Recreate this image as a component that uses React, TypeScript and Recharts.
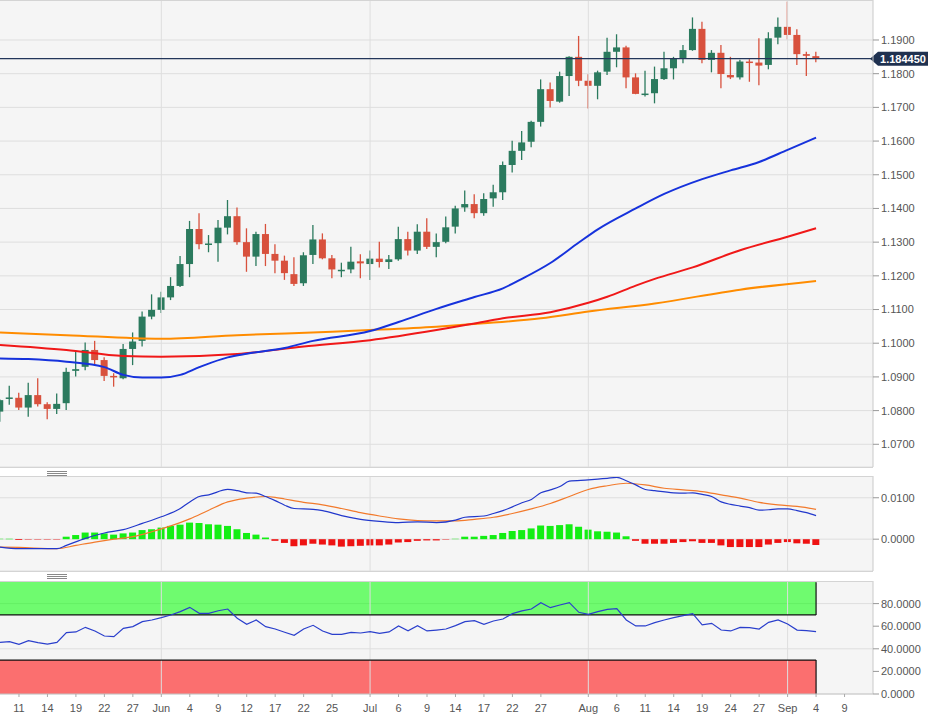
import React from "react"
import {
  ComposedChart,
  Bar,
  Line,
  XAxis,
  YAxis,
  CartesianGrid,
  ReferenceLine,
  ReferenceArea,
  Cell,
} from "recharts"

// trading days, index 0 = May 11
const FIRST = -2

const opens = [
  1.0797, 1.0837, 1.0838, 1.0809, 1.0846, 1.0819, 1.0805, 1.0822, 1.0918, 1.093,
  1.098, 1.095, 1.0903, 1.0896, 1.0983, 1.1007, 1.1079, 1.1099, 1.1136, 1.117,
  1.1235, 1.1339, 1.1293, 1.1297, 1.1343, 1.1377, 1.13, 1.1257, 1.1324, 1.1265,
  1.1245, 1.1205, 1.1178, 1.1262, 1.1308, 1.1252, 1.1216, 1.1219, 1.1243, 1.1235,
  1.1251, 1.1241, 1.1249, 1.1309, 1.1275, 1.1331, 1.1286, 1.1301, 1.1346, 1.1403,
  1.1413, 1.1386, 1.143, 1.1448, 1.1529, 1.1571, 1.1598, 1.1657, 1.1754, 1.1717,
  1.1793, 1.185, 1.1779, 1.1764, 1.1806, 1.1865, 1.1878, 1.1789, 1.1739, 1.1742,
  1.1784, 1.1816, 1.1846, 1.187, 1.1933, 1.1841, 1.1862, 1.1796, 1.1789, 1.1836,
  1.1833, 1.1826, 1.1907, 1.1939, 1.1915, 1.1858, 1.1852,
]
const highs = [
  1.0834, 1.0874, 1.0853, 1.0883, 1.0896, 1.0825, 1.0851, 1.0927, 1.0975, 1.1002,
  1.1007, 1.0958, 1.0911, 1.0998, 1.1032, 1.1094, 1.1145, 1.1153, 1.1196, 1.1259,
  1.1363, 1.1386, 1.1321, 1.1366, 1.1425, 1.1403, 1.1341, 1.1331, 1.1354, 1.1294,
  1.126, 1.1255, 1.127, 1.1351, 1.1326, 1.1262, 1.1239, 1.1286, 1.1264, 1.1275,
  1.1301, 1.1262, 1.1346, 1.1331, 1.1353, 1.1371, 1.1326, 1.1376, 1.1408, 1.1453,
  1.1442, 1.1445, 1.147, 1.1539, 1.1601, 1.163, 1.166, 1.1783, 1.1774, 1.1806,
  1.1852, 1.1912, 1.1798, 1.1809, 1.1907, 1.1917, 1.1883, 1.1801, 1.1809, 1.1821,
  1.1865, 1.185, 1.1885, 1.1967, 1.1954, 1.187, 1.1885, 1.185, 1.1841, 1.1843,
  1.1905, 1.1923, 1.1967, 1.2014, 1.1932, 1.1865, 1.1865,
]
const lows = [
  1.0767, 1.0817, 1.0802, 1.0782, 1.0812, 1.0774, 1.079, 1.0802, 1.0901, 1.092,
  1.0937, 1.0888, 1.0871, 1.0893, 1.0935, 1.099, 1.1071, 1.109, 1.1128, 1.1167,
  1.1196, 1.1279, 1.127, 1.1242, 1.1323, 1.1292, 1.1212, 1.1229, 1.1229, 1.1208,
  1.1188, 1.117, 1.117, 1.1235, 1.1249, 1.1193, 1.1196, 1.1208, 1.1193, 1.1188,
  1.1225, 1.122, 1.1245, 1.126, 1.1265, 1.128, 1.1255, 1.1297, 1.1326, 1.139,
  1.1371, 1.1378, 1.1405, 1.1425, 1.1507, 1.1544, 1.1582, 1.1643, 1.17, 1.1714,
  1.1734, 1.1763, 1.1697, 1.1724, 1.1796, 1.1819, 1.1757, 1.1739, 1.1732, 1.1712,
  1.1781, 1.1783, 1.1831, 1.1868, 1.1831, 1.1804, 1.1757, 1.1784, 1.1783, 1.1776,
  1.1766, 1.1813, 1.1887, 1.1902, 1.1826, 1.1793, 1.1834,
]
const closes = [
  1.0831, 1.0839, 1.0809, 1.0846, 1.0819, 1.0805, 1.082, 1.0915, 1.0923, 1.098,
  1.095, 1.0903, 1.09, 1.0983, 1.1005, 1.1079, 1.1099, 1.1136, 1.117, 1.1235,
  1.1339, 1.1294, 1.1296, 1.1343, 1.1377, 1.13, 1.1257, 1.1324, 1.1265, 1.1245,
  1.1208, 1.1176, 1.1261, 1.1308, 1.1252, 1.1219, 1.1218, 1.1242, 1.1237, 1.1251,
  1.1241, 1.1249, 1.1309, 1.1275, 1.1331, 1.1286, 1.13, 1.1344, 1.14, 1.1413,
  1.1386, 1.1428, 1.1448, 1.1529, 1.1571, 1.1596, 1.1657, 1.1754, 1.1719, 1.1793,
  1.185, 1.1779, 1.1764, 1.1804, 1.1865, 1.1878, 1.1789, 1.174, 1.1741, 1.1784,
  1.1816, 1.1846, 1.187, 1.1933, 1.1841, 1.1862, 1.1799, 1.1789, 1.1836, 1.1833,
  1.1824, 1.1905, 1.1939, 1.1915, 1.1858, 1.1853, 1.18445,
]

// moving averages, [day index, value]
const ma50 = [
  [-2, 1.0955], [1, 1.0953], [5, 1.0945], [9, 1.0929], [11, 1.0906], [13, 1.0898],
  [15, 1.0898], [17, 1.0906], [19, 1.0929], [22, 1.0958], [24, 1.0969], [28, 1.0986],
  [31, 1.1007], [37, 1.1036], [40, 1.1063], [44, 1.1102], [48, 1.1137], [51, 1.1163],
  [53, 1.1191], [56, 1.1238], [59, 1.1299], [61, 1.1338], [65, 1.14], [68, 1.1443],
  [72, 1.1487], [75, 1.1513], [78, 1.1538], [81, 1.1574], [84, 1.161],
]
const ma100 = [
  [-2, 1.0995], [5, 1.098], [11, 1.0962], [15, 1.096], [23, 1.0968], [30, 1.099],
  [37, 1.1009], [44, 1.1039], [49, 1.1064], [51, 1.1074], [56, 1.1092], [60, 1.112],
  [62, 1.1138], [65, 1.1171], [67, 1.1191], [71, 1.1225], [76, 1.1276], [81, 1.1316],
  [84, 1.1341],
]
const ma200 = [
  [-2, 1.1032], [5, 1.1024], [15, 1.1013], [23, 1.1024], [33, 1.1034], [37, 1.1039],
  [44, 1.1049], [49, 1.1059], [55, 1.1074], [60, 1.1094], [67, 1.1118], [76, 1.1159],
  [84, 1.1185],
]

const macd = [
  [-2, -0.0019], [0, -0.0023], [4, -0.0023], [5, -0.0015], [7, 0.0002], [9, 0.0015],
  [11, 0.0023], [13, 0.0038], [15, 0.0054], [17, 0.0074], [18, 0.009], [19, 0.0103],
  [20, 0.0107], [22, 0.012], [23, 0.0117], [24, 0.0112], [25, 0.0111], [26, 0.0103],
  [27, 0.0093], [28, 0.0082], [29, 0.0074], [31, 0.0072], [32, 0.0069], [34, 0.0057],
  [36, 0.0048], [38, 0.0043], [40, 0.004], [42, 0.0042], [44, 0.004], [46, 0.0046],
  [47, 0.0053], [49, 0.0056], [50, 0.0062], [51, 0.0069], [52, 0.0078], [53, 0.0088],
  [54, 0.0096], [55, 0.0112], [56, 0.0119], [57, 0.0127], [58, 0.014], [60, 0.0143],
  [61, 0.0145], [62, 0.0147], [63, 0.0149], [64, 0.0141], [65, 0.0131], [66, 0.012],
  [67, 0.0117], [69, 0.0112], [70, 0.0111], [71, 0.0112], [72, 0.0108], [73, 0.0103],
  [74, 0.009], [75, 0.0084], [76, 0.008], [77, 0.0076], [78, 0.007], [79, 0.0071],
  [80, 0.0073], [81, 0.0073], [82, 0.0069], [83, 0.0064], [84, 0.0057],
]
const signal = [
  [-2, -0.0019], [0, -0.002], [4, -0.0023], [6, -0.0015], [8, -0.0007], [10, 0.0],
  [12, 0.0006], [14, 0.0018], [16, 0.0032], [18, 0.0049], [20, 0.007], [22, 0.009],
  [24, 0.0099], [26, 0.0103], [27, 0.0101], [28, 0.0097], [30, 0.0089], [32, 0.0083],
  [34, 0.0074], [36, 0.0064], [38, 0.0056], [40, 0.0049], [42, 0.0045], [44, 0.0044],
  [46, 0.0044], [48, 0.0048], [50, 0.0053], [52, 0.0062], [54, 0.0073], [56, 0.0086],
  [58, 0.0103], [60, 0.012], [62, 0.0129], [64, 0.0135], [66, 0.0131], [68, 0.0123],
  [70, 0.0119], [72, 0.0115], [74, 0.0107], [76, 0.0099], [78, 0.0089], [80, 0.0083],
  [82, 0.0079], [84, 0.0072],
]
const hist = [
  0.0001, 0.0001, -0.0002, -0.0001, -0.0001, -0.0001, -0.0001, 0.0006, 0.001, 0.0016,
  0.0016, 0.0014, 0.0011, 0.0014, 0.0016, 0.0022, 0.0024, 0.0028, 0.0032, 0.0035,
  0.004, 0.0039, 0.0036, 0.0035, 0.0032, 0.0024, 0.0015, 0.0011, 0.0004, -0.0004,
  -0.0009, -0.0017, -0.0015, -0.0011, -0.0013, -0.0015, -0.0018, -0.0017, -0.0016, -0.0015,
  -0.0015, -0.0013, -0.0008, -0.0007, -0.0004, -0.0003, -0.0003, -0.0001, 0.0001, 0.0006,
  0.0006, 0.0008, 0.001, 0.0015, 0.002, 0.0022, 0.0026, 0.0033, 0.0032, 0.0034,
  0.0036, 0.003, 0.0023, 0.0019, 0.0018, 0.0016, 0.0007, -0.0004, -0.0011, -0.0011,
  -0.0011, -0.0009, -0.0007, -0.0005, -0.0009, -0.0009, -0.0015, -0.0019, -0.0019, -0.0019,
  -0.0019, -0.0013, -0.0009, -0.0007, -0.001, -0.0011, -0.0014,
]
const rsi = [
  45.7, 46.3, 44.0, 47.2, 45.4, 44.2, 45.7, 54.3, 54.9, 59.0,
  55.8, 51.3, 50.7, 58.1, 59.6, 64.0, 65.5, 67.6, 69.9, 72.9,
  76.7, 71.4, 71.4, 73.7, 75.2, 67.0, 61.7, 65.5, 59.6, 57.5,
  54.6, 51.9, 57.5, 60.8, 55.8, 52.8, 52.8, 54.6, 54.0, 55.2,
  53.7, 54.9, 60.2, 56.0, 60.5, 55.8, 56.6, 57.5, 60.5, 64.0,
  64.9, 61.7, 64.6, 66.4, 71.1, 73.5, 75.2, 80.8, 76.4, 78.8,
  80.8, 72.3, 70.5, 72.9, 74.9, 75.5, 65.5, 60.2, 60.2, 63.1,
  65.5, 67.6, 69.3, 71.1, 61.1, 62.5, 56.6, 55.8, 59.0, 58.7,
  57.5, 63.4, 65.5, 61.9, 56.6, 56.0, 55.2,
]

const tickIdx = [0, 3, 6, 9, 12, 15, 18, 21, 24, 27, 30, 33, 37, 40, 43, 46, 49, 52, 55, 60, 63, 66, 69, 72, 75, 78, 81, 84, 87]
const tickText = ["11", "14", "19", "22", "27", "Jun", "4", "9", "12", "17", "22", "25", "Jul", "6", "9", "14", "17", "22", "27", "Aug", "6", "11", "14", "19", "24", "27", "Sep", "4", "9"]
const monthIdx = [15, 37, 60, 81]
const priceTicks = [1.07, 1.08, 1.09, 1.1, 1.11, 1.12, 1.13, 1.14, 1.15, 1.16, 1.17, 1.18, 1.19]
const macdTicks = [0, 0.01]
const rsiTicks = [0, 20, 40, 60, 80]
const LAST = 1.18445

const UP = "#2b7a5e"
const DOWN = "#d8513d"
const GRID = "#dedede"
const PLOT_BG = "#f5f5f5"
const TEXT = "#555"
const FONT = "'Liberation Sans', Arial, sans-serif"

const X_DOMAIN = [-2, 90]
const W = 951
const AXIS_W = 78

const rows = opens.map((o, k) => ({
  i: FIRST + k,
  open: o,
  high: highs[k],
  low: lows[k],
  close: closes[k],
  hist: hist[k],
  rsi: rsi[k],
}))

const pts = (pairs: number[][]) => pairs.map(([i, v]) => ({ i, v }))

const Candle = (props: any) => {
  const { x, y, width, height, payload } = props
  if (!payload) return null
  const { open, close, high, low } = payload
  const top = Math.min(y, y + height)
  const h = Math.abs(height)
  const span = high - low || 1
  const py = (v: number) => top + ((high - v) / span) * h
  const color = close >= open ? UP : DOWN
  const cx = x + width / 2
  const bodyTop = py(Math.max(open, close))
  const bodyH = Math.max(1.5, py(Math.min(open, close)) - bodyTop)
  return (
    <g>
      <line x1={cx} x2={cx} y1={top} y2={top + h} stroke={color} strokeWidth={1.3} />
      <rect x={x} y={bodyTop} width={width} height={bodyH} fill={color} />
    </g>
  )
}

const PriceTag = (props: any) => {
  const vb = props.viewBox
  if (!vb) return null
  const x0 = vb.x + vb.width - 3
  const y = vb.y
  return (
    <g>
      <polygon
        points={`${x0},${y} ${x0 + 8},${y - 7} ${x0 + 58},${y - 7} ${x0 + 58},${y + 7} ${x0 + 8},${y + 7}`}
        fill="#1f3150"
      />
      <text x={x0 + 33} y={y + 4} textAnchor="middle" fill="#fff" fontSize={11} fontWeight="bold" fontFamily={FONT}>
        {LAST.toFixed(6)}
      </text>
    </g>
  )
}

const Grip = ({ top }: { top: number }) => (
  <div style={{ position: "absolute", left: 47, top, width: 20 }}>
    {[0, 2, 4].map((d) => (
      <div key={d} style={{ position: "absolute", top: d, width: 20, height: 1, background: "#888" }} />
    ))}
  </div>
)

const axisTick = { fill: TEXT, fontSize: 11, fontFamily: FONT }

const seriesLine = (key: string, pairs: number[][], color: string, width: number, type: any = "monotone") => (
  <Line
    key={key}
    data={pts(pairs)}
    dataKey="v"
    type={type}
    stroke={color}
    strokeWidth={width}
    dot={false}
    activeDot={false}
    isAnimationActive={false}
  />
)

export default function App() {
  const monthLines = monthIdx.map((m) => (
    <ReferenceLine key={m} x={m} stroke={GRID} strokeWidth={1} />
  ))

  return (
    <div style={{ position: "absolute", left: 0, top: 0, width: W, height: 727, background: "#fff", fontFamily: FONT }}>
      {/* price panel */}
      <div style={{ position: "absolute", left: 0, top: 0 }}>
        <ComposedChart width={W} height={467} data={rows} margin={{ top: 0, right: 0, bottom: 0, left: 0 }}>
          <CartesianGrid vertical={false} stroke={GRID} fill={PLOT_BG} />
          <XAxis dataKey="i" type="number" domain={X_DOMAIN} allowDataOverflow hide />
          <YAxis
            orientation="right"
            width={AXIS_W}
            domain={[1.06326, 1.20187]}
            allowDataOverflow
            ticks={priceTicks}
            tickFormatter={(v: number) => v.toFixed(4)}
            tick={axisTick}
            axisLine={{ stroke: "#c9c9c9" }}
            tickLine={{ stroke: "#999" }}
          />
          {monthLines}
          <ReferenceLine y={LAST} stroke="#23365a" strokeWidth={1.2} label={<PriceTag />} />
          <Bar
            dataKey={(d: any) => [d.low, d.high]}
            barSize={7}
            shape={<Candle />}
            isAnimationActive={false}
          />
          {seriesLine("ma200", ma200, "#ff8c00", 2)}
          {seriesLine("ma100", ma100, "#f01818", 2)}
          {seriesLine("ma50", ma50, "#1632dc", 2)}
        </ComposedChart>
      </div>
      <div style={{ position: "absolute", left: -1, top: 0, width: 874, height: 466, borderTop: "1px solid #d4d4d4", borderBottom: "1px solid #d4d4d4", pointerEvents: "none" }} />

      <Grip top={471} />

      {/* MACD panel */}
      <div style={{ position: "absolute", left: 0, top: 476 }}>
        <ComposedChart width={W} height={95} data={rows} margin={{ top: 0, right: 0, bottom: 0, left: 0 }}>
          <CartesianGrid vertical={false} stroke={GRID} fill={PLOT_BG} />
          <XAxis dataKey="i" type="number" domain={X_DOMAIN} allowDataOverflow hide />
          <YAxis
            orientation="right"
            width={AXIS_W}
            domain={[-0.00768, 0.01525]}
            allowDataOverflow
            ticks={macdTicks}
            tickFormatter={(v: number) => v.toFixed(4)}
            tick={axisTick}
            axisLine={{ stroke: "#c9c9c9" }}
            tickLine={{ stroke: "#999" }}
          />
          {monthLines}
          <Bar dataKey="hist" barSize={7} isAnimationActive={false}>
            {rows.map((r) => (
              <Cell key={r.i} fill={r.hist >= 0 ? "#14ee14" : "#ee1212"} />
            ))}
          </Bar>
          {seriesLine("signal", signal, "#f27a2c", 1.2)}
          {seriesLine("macd", macd, "#2238cc", 1.2)}
        </ComposedChart>
      </div>
      <div style={{ position: "absolute", left: -1, top: 476, width: 874, height: 94, borderTop: "1px solid #d4d4d4", borderBottom: "1px solid #d4d4d4", pointerEvents: "none" }} />

      <Grip top={574} />

      {/* RSI panel */}
      <div style={{ position: "absolute", left: 0, top: 581 }}>
        <ComposedChart width={W} height={146} data={rows} margin={{ top: 0, right: 0, bottom: 0, left: 0 }}>
          <CartesianGrid vertical={false} stroke={GRID} fill={PLOT_BG} />
          <XAxis
            dataKey="i"
            type="number"
            domain={X_DOMAIN}
            allowDataOverflow
            ticks={tickIdx}
            interval={0}
            height={33}
            tickFormatter={(v: number) => tickText[tickIdx.indexOf(v)] ?? ""}
            tick={axisTick}
            axisLine={{ stroke: "#c9c9c9" }}
            tickLine={{ stroke: "#aaa" }}
            tickSize={3}
            tickMargin={7}
          />
          <YAxis
            orientation="right"
            width={AXIS_W}
            domain={[0, 100]}
            allowDataOverflow
            ticks={rsiTicks}
            tickFormatter={(v: number) => v.toFixed(4)}
            tick={axisTick}
            axisLine={{ stroke: "#c9c9c9" }}
            tickLine={{ stroke: "#999" }}
          />
          {monthLines}
          <ReferenceArea x1={-2} x2={84} y1={70} y2={100} fill="#00ff00" fillOpacity={0.55} stroke="none" />
          <ReferenceArea x1={-2} x2={84} y1={0} y2={30} fill="#ff0000" fillOpacity={0.55} stroke="none" />
          <ReferenceLine segment={[{ x: -2, y: 70 }, { x: 84, y: 70 }]} stroke="#111" strokeWidth={1.2} />
          <ReferenceLine segment={[{ x: 84, y: 70 }, { x: 84, y: 99 }]} stroke="#111" strokeWidth={1.2} />
          <ReferenceLine segment={[{ x: -2, y: 30 }, { x: 84, y: 30 }]} stroke="#111" strokeWidth={1.2} />
          <ReferenceLine segment={[{ x: 84, y: 0 }, { x: 84, y: 30 }]} stroke="#111" strokeWidth={1.2} />
          <Line dataKey="rsi" type="linear" stroke="#2a3fcc" strokeWidth={1.2} dot={false} activeDot={false} isAnimationActive={false} />
        </ComposedChart>
      </div>
      <div style={{ position: "absolute", left: -1, top: 581, width: 874, height: 112, borderTop: "1px solid #d4d4d4", pointerEvents: "none" }} />
    </div>
  )
}
